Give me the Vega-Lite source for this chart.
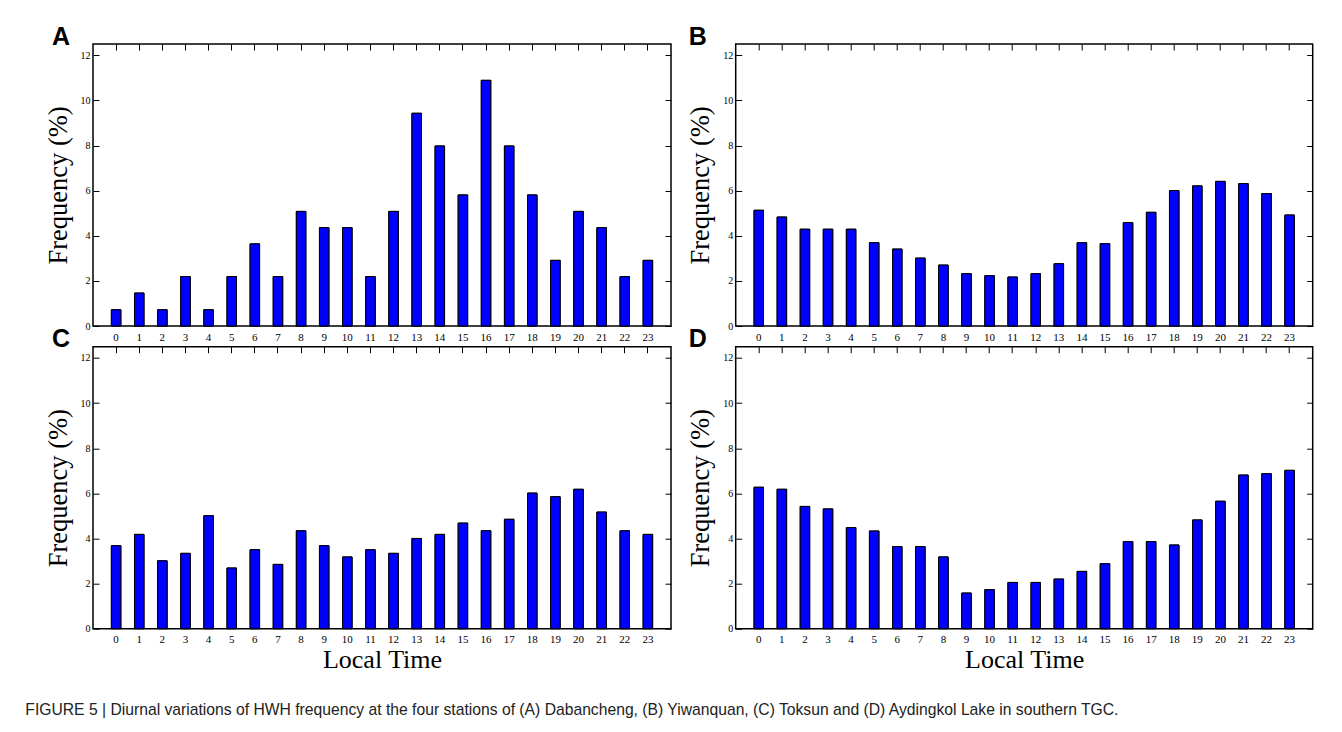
{
  "$schema": "https://vega.github.io/schema/vega-lite/v6.json",
  "background": "white",
  "padding": {"left": 25, "top": 23, "right": 5, "bottom": 14},
  "bounds": "flush",
  "columns": 2,
  "spacing": {"row": 20.7, "column": 64.7},
  "title": {
    "text": "FIGURE 5 | Diurnal variations of HWH frequency at the four stations of (A) Dabancheng, (B) Yiwanquan, (C) Toksun and (D) Aydingkol Lake in southern TGC.",
    "orient": "bottom",
    "anchor": "start",
    "frame": "group",
    "dx": -67.7,
    "offset": 30,
    "font": "Liberation Sans",
    "fontSize": 15.7,
    "fontWeight": "normal",
    "color": "#222222"
  },
  "config": {
    "view": {"stroke": "black", "strokeWidth": 1.5},
    "title": {"font": "Liberation Sans", "fontSize": 25, "fontWeight": "bold", "color": "black", "anchor": "start", "frame": "group", "dx": -41, "offset": -6, "baseline": "alphabetic"},
    "axis": {"labelFont": "Liberation Serif", "titleFont": "Liberation Serif", "labelColor": "black", "titleColor": "black", "tickColor": "black", "grid": false, "domain": false, "titleFontWeight": "normal"}
  },
  "data": {
    "values": [
      {"panel": "A", "hour": 0, "freq": 0.72}, {"panel": "A", "hour": 1, "freq": 1.46}, {"panel": "A", "hour": 2, "freq": 0.72}, {"panel": "A", "hour": 3, "freq": 2.19},
      {"panel": "A", "hour": 4, "freq": 0.72}, {"panel": "A", "hour": 5, "freq": 2.19}, {"panel": "A", "hour": 6, "freq": 3.64}, {"panel": "A", "hour": 7, "freq": 2.19},
      {"panel": "A", "hour": 8, "freq": 5.08}, {"panel": "A", "hour": 9, "freq": 4.36}, {"panel": "A", "hour": 10, "freq": 4.36}, {"panel": "A", "hour": 11, "freq": 2.19},
      {"panel": "A", "hour": 12, "freq": 5.08}, {"panel": "A", "hour": 13, "freq": 9.43}, {"panel": "A", "hour": 14, "freq": 7.98}, {"panel": "A", "hour": 15, "freq": 5.81},
      {"panel": "A", "hour": 16, "freq": 10.89}, {"panel": "A", "hour": 17, "freq": 7.98}, {"panel": "A", "hour": 18, "freq": 5.81}, {"panel": "A", "hour": 19, "freq": 2.91},
      {"panel": "A", "hour": 20, "freq": 5.08}, {"panel": "A", "hour": 21, "freq": 4.36}, {"panel": "A", "hour": 22, "freq": 2.19}, {"panel": "A", "hour": 23, "freq": 2.91},
      {"panel": "B", "hour": 0, "freq": 5.13}, {"panel": "B", "hour": 1, "freq": 4.83}, {"panel": "B", "hour": 2, "freq": 4.29}, {"panel": "B", "hour": 3, "freq": 4.29},
      {"panel": "B", "hour": 4, "freq": 4.29}, {"panel": "B", "hour": 5, "freq": 3.69}, {"panel": "B", "hour": 6, "freq": 3.41}, {"panel": "B", "hour": 7, "freq": 3.01},
      {"panel": "B", "hour": 8, "freq": 2.70}, {"panel": "B", "hour": 9, "freq": 2.32}, {"panel": "B", "hour": 10, "freq": 2.23}, {"panel": "B", "hour": 11, "freq": 2.17},
      {"panel": "B", "hour": 12, "freq": 2.32}, {"panel": "B", "hour": 13, "freq": 2.76}, {"panel": "B", "hour": 14, "freq": 3.69}, {"panel": "B", "hour": 15, "freq": 3.65},
      {"panel": "B", "hour": 16, "freq": 4.58}, {"panel": "B", "hour": 17, "freq": 5.04}, {"panel": "B", "hour": 18, "freq": 6.00}, {"panel": "B", "hour": 19, "freq": 6.21},
      {"panel": "B", "hour": 20, "freq": 6.41}, {"panel": "B", "hour": 21, "freq": 6.31}, {"panel": "B", "hour": 22, "freq": 5.87}, {"panel": "B", "hour": 23, "freq": 4.92},
      {"panel": "C", "hour": 0, "freq": 3.68}, {"panel": "C", "hour": 1, "freq": 4.18}, {"panel": "C", "hour": 2, "freq": 3.01}, {"panel": "C", "hour": 3, "freq": 3.34},
      {"panel": "C", "hour": 4, "freq": 5.01}, {"panel": "C", "hour": 5, "freq": 2.69}, {"panel": "C", "hour": 6, "freq": 3.50}, {"panel": "C", "hour": 7, "freq": 2.85},
      {"panel": "C", "hour": 8, "freq": 4.34}, {"panel": "C", "hour": 9, "freq": 3.68}, {"panel": "C", "hour": 10, "freq": 3.18}, {"panel": "C", "hour": 11, "freq": 3.50},
      {"panel": "C", "hour": 12, "freq": 3.34}, {"panel": "C", "hour": 13, "freq": 4.00}, {"panel": "C", "hour": 14, "freq": 4.18}, {"panel": "C", "hour": 15, "freq": 4.68},
      {"panel": "C", "hour": 16, "freq": 4.34}, {"panel": "C", "hour": 17, "freq": 4.85}, {"panel": "C", "hour": 18, "freq": 6.01}, {"panel": "C", "hour": 19, "freq": 5.85},
      {"panel": "C", "hour": 20, "freq": 6.18}, {"panel": "C", "hour": 21, "freq": 5.17}, {"panel": "C", "hour": 22, "freq": 4.34}, {"panel": "C", "hour": 23, "freq": 4.18},
      {"panel": "D", "hour": 0, "freq": 6.27}, {"panel": "D", "hour": 1, "freq": 6.18}, {"panel": "D", "hour": 2, "freq": 5.42}, {"panel": "D", "hour": 3, "freq": 5.31},
      {"panel": "D", "hour": 4, "freq": 4.48}, {"panel": "D", "hour": 5, "freq": 4.33}, {"panel": "D", "hour": 6, "freq": 3.64}, {"panel": "D", "hour": 7, "freq": 3.64},
      {"panel": "D", "hour": 8, "freq": 3.18}, {"panel": "D", "hour": 9, "freq": 1.58}, {"panel": "D", "hour": 10, "freq": 1.73}, {"panel": "D", "hour": 11, "freq": 2.05},
      {"panel": "D", "hour": 12, "freq": 2.05}, {"panel": "D", "hour": 13, "freq": 2.20}, {"panel": "D", "hour": 14, "freq": 2.54}, {"panel": "D", "hour": 15, "freq": 2.88},
      {"panel": "D", "hour": 16, "freq": 3.86}, {"panel": "D", "hour": 17, "freq": 3.86}, {"panel": "D", "hour": 18, "freq": 3.71}, {"panel": "D", "hour": 19, "freq": 4.82},
      {"panel": "D", "hour": 20, "freq": 5.65}, {"panel": "D", "hour": 21, "freq": 6.81}, {"panel": "D", "hour": 22, "freq": 6.87}, {"panel": "D", "hour": 23, "freq": 7.02}
    ]
  },
  "concat": [
    {
      "title": {"text": "A"},
      "width": 578, "height": 282,
      "transform": [{"filter": "datum.panel === 'A'"}],
      "layer": [
        {"mark": {"type": "bar", "fill": "#0000ff", "stroke": "black", "strokeWidth": 1, "width": 9.5},
         "encoding": {
           "x": {"field": "hour", "type": "ordinal", "scale": {"paddingInner": 0.59, "paddingOuter": 0.795}, "axis": {"orient": "bottom", "title": null, "labelAngle": 0, "ticks": false, "labelPadding": 5, "labelFontSize": 11}},
           "y": {"field": "freq", "type": "quantitative", "scale": {"domain": [0, 12.5], "nice": false}, "axis": {"orient": "left", "title": "Frequency (%)", "values": [0, 2, 4, 6, 8, 10, 12], "tickSize": -6, "labelPadding": 9, "labelFontSize": 10, "titleFontSize": 26.5, "titlePadding": 8}}
         }},
        {"mark": {"type": "bar", "fill": "#0000ff", "stroke": "black", "strokeWidth": 1, "width": 9.5},
         "encoding": {
           "x": {"field": "hour", "type": "ordinal", "axis": {"orient": "top", "title": null, "labels": false, "tickSize": -6}},
           "y": {"field": "freq", "type": "quantitative", "axis": {"orient": "right", "title": null, "labels": false, "values": [0, 2, 4, 6, 8, 10, 12], "tickSize": -6}}
         }}
      ],
      "resolve": {"axis": {"x": "independent", "y": "independent"}}
    },
    {
      "title": {"text": "B", "dx": -47},
      "width": 577, "height": 282,
      "transform": [{"filter": "datum.panel === 'B'"}],
      "layer": [
        {"mark": {"type": "bar", "fill": "#0000ff", "stroke": "black", "strokeWidth": 1, "width": 9.5},
         "encoding": {
           "x": {"field": "hour", "type": "ordinal", "scale": {"paddingInner": 0.59, "paddingOuter": 0.795}, "axis": {"orient": "bottom", "title": null, "labelAngle": 0, "ticks": false, "labelPadding": 5, "labelFontSize": 11}},
           "y": {"field": "freq", "type": "quantitative", "scale": {"domain": [0, 12.5], "nice": false}, "axis": {"orient": "left", "title": "Frequency (%)", "values": [0, 2, 4, 6, 8, 10, 12], "tickSize": -6, "labelPadding": 9, "labelFontSize": 10, "titleFontSize": 26.5, "titlePadding": 8}}
         }},
        {"mark": {"type": "bar", "fill": "#0000ff", "stroke": "black", "strokeWidth": 1, "width": 9.5},
         "encoding": {
           "x": {"field": "hour", "type": "ordinal", "axis": {"orient": "top", "title": null, "labels": false, "tickSize": -6}},
           "y": {"field": "freq", "type": "quantitative", "axis": {"orient": "right", "title": null, "labels": false, "values": [0, 2, 4, 6, 8, 10, 12], "tickSize": -6}}
         }}
      ],
      "resolve": {"axis": {"x": "independent", "y": "independent"}}
    },
    {
      "title": {"text": "C"},
      "width": 578, "height": 282,
      "transform": [{"filter": "datum.panel === 'C'"}],
      "layer": [
        {"mark": {"type": "bar", "fill": "#0000ff", "stroke": "black", "strokeWidth": 1, "width": 9.5},
         "encoding": {
           "x": {"field": "hour", "type": "ordinal", "scale": {"paddingInner": 0.59, "paddingOuter": 0.795}, "axis": {"orient": "bottom", "title": "Local Time", "labelAngle": 0, "ticks": false, "labelPadding": 5, "labelFontSize": 11, "titleFontSize": 26, "titlePadding": 2}},
           "y": {"field": "freq", "type": "quantitative", "scale": {"domain": [0, 12.5], "nice": false}, "axis": {"orient": "left", "title": "Frequency (%)", "values": [0, 2, 4, 6, 8, 10, 12], "tickSize": -6, "labelPadding": 9, "labelFontSize": 10, "titleFontSize": 26.5, "titlePadding": 8}}
         }},
        {"mark": {"type": "bar", "fill": "#0000ff", "stroke": "black", "strokeWidth": 1, "width": 9.5},
         "encoding": {
           "x": {"field": "hour", "type": "ordinal", "axis": {"orient": "top", "title": null, "labels": false, "tickSize": -6}},
           "y": {"field": "freq", "type": "quantitative", "axis": {"orient": "right", "title": null, "labels": false, "values": [0, 2, 4, 6, 8, 10, 12], "tickSize": -6}}
         }}
      ],
      "resolve": {"axis": {"x": "independent", "y": "independent"}}
    },
    {
      "title": {"text": "D", "dx": -47},
      "width": 577, "height": 282,
      "transform": [{"filter": "datum.panel === 'D'"}],
      "layer": [
        {"mark": {"type": "bar", "fill": "#0000ff", "stroke": "black", "strokeWidth": 1, "width": 9.5},
         "encoding": {
           "x": {"field": "hour", "type": "ordinal", "scale": {"paddingInner": 0.59, "paddingOuter": 0.795}, "axis": {"orient": "bottom", "title": "Local Time", "labelAngle": 0, "ticks": false, "labelPadding": 5, "labelFontSize": 11, "titleFontSize": 26, "titlePadding": 2}},
           "y": {"field": "freq", "type": "quantitative", "scale": {"domain": [0, 12.5], "nice": false}, "axis": {"orient": "left", "title": "Frequency (%)", "values": [0, 2, 4, 6, 8, 10, 12], "tickSize": -6, "labelPadding": 9, "labelFontSize": 10, "titleFontSize": 26.5, "titlePadding": 8}}
         }},
        {"mark": {"type": "bar", "fill": "#0000ff", "stroke": "black", "strokeWidth": 1, "width": 9.5},
         "encoding": {
           "x": {"field": "hour", "type": "ordinal", "axis": {"orient": "top", "title": null, "labels": false, "tickSize": -6}},
           "y": {"field": "freq", "type": "quantitative", "axis": {"orient": "right", "title": null, "labels": false, "values": [0, 2, 4, 6, 8, 10, 12], "tickSize": -6}}
         }}
      ],
      "resolve": {"axis": {"x": "independent", "y": "independent"}}
    }
  ]
}
